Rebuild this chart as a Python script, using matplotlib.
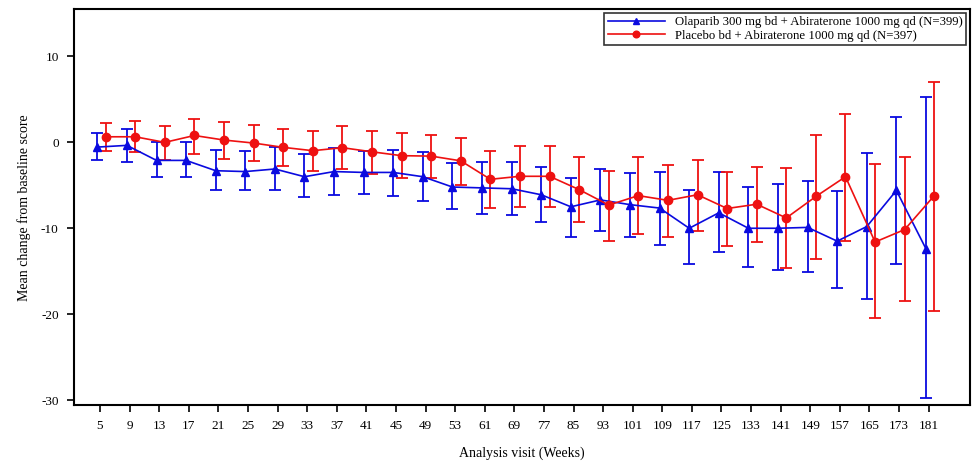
import numpy as np
import matplotlib
matplotlib.use('Agg')
import matplotlib.pyplot as plt

# Analysis visits (weeks)
weeks = [5, 9, 13, 17, 21, 25, 29, 33, 37, 41, 45, 49, 53,
         61, 69, 77, 85, 93, 101, 109, 117, 125, 133, 141, 149, 157, 165, 173, 181]

# Olaparib + Abiraterone: mean change and 95% CI limits
ola_mean = [-0.55, -0.35, -2.1, -2.1, -3.3, -3.4, -3.1, -4.0, -3.4, -3.5, -3.5, -4.0, -5.2,
            -5.3, -5.4, -6.1, -7.5, -6.7, -7.25, -7.65, -10.0, -8.2, -10.0, -10.0, -9.9,
            -11.5, -9.8, -5.6, -12.4]
ola_upper = [1.1, 1.5, 0.0, 0.0, -0.85, -1.0, -0.55, -1.4, -0.66, -1.0, -0.85, -1.1, -2.4,
             -2.3, -2.3, -2.9, -4.1, -3.1, -3.6, -3.45, -5.6, -3.5, -5.2, -4.9, -4.45,
             -5.7, -1.2, 3.0, 5.3]
ola_lower = [-2.1, -2.3, -4.0, -4.0, -5.6, -5.6, -5.5, -6.4, -6.1, -6.0, -6.3, -6.8, -7.75,
             -8.3, -8.4, -9.3, -11.0, -10.3, -11.0, -11.9, -14.2, -12.8, -14.5, -14.9, -15.1,
             -17.0, -18.2, -14.2, -29.8]

# Placebo + Abiraterone: mean change and 95% CI limits
pla_mean = [0.65, 0.65, 0.0, 0.8, 0.27, -0.08, -0.58, -0.97, -0.62, -1.1, -1.55, -1.6, -2.15,
            -4.3, -3.95, -3.95, -5.5, -7.3, -6.2, -6.75, -6.1, -7.7, -7.2, -8.8, -6.3,
            -4.0, -11.6, -10.15, -6.2]
pla_upper = [2.2, 2.5, 1.9, 2.75, 2.4, 2.0, 1.6, 1.36, 1.94, 1.3, 1.1, 0.9, 0.55,
             -1.0, -0.43, -0.43, -1.7, -3.3, -1.7, -2.6, -2.1, -3.4, -2.9, -3.0, 0.8,
             3.3, -2.5, -1.75, 7.0]
pla_lower = [-1.0, -1.1, -2.0, -1.3, -1.9, -2.2, -2.8, -3.3, -3.1, -3.7, -4.2, -4.1, -5.0,
             -7.6, -7.5, -7.55, -9.3, -11.5, -10.7, -11.0, -10.3, -12.1, -11.6, -14.6, -13.6,
             -11.5, -20.4, -18.5, -19.65]

plt.rcParams['font.family'] = ['Liberation Serif', 'DejaVu Serif']
plt.rcParams['axes.unicode_minus'] = False

fig = plt.figure(figsize=(9.73, 4.61), dpi=100)
ax = fig.add_axes([0.076, 0.121, 0.921, 0.859])

pos = np.arange(len(weeks))


def draw_series(offset, mean, lower, upper, color, marker, ms, label):
    mean = np.array(mean)
    yerr = [mean - np.array(lower), np.array(upper) - mean]
    ax.errorbar(pos + offset, mean, yerr=yerr, color=color, marker=marker,
                markersize=ms, linewidth=1.2, elinewidth=1.3, capsize=4,
                capthick=1.3, label=label)


draw_series(-0.09, ola_mean, ola_lower, ola_upper, '#0a0adf', '^', 5.5,
            'Olaparib 300 mg bd + Abiraterone 1000 mg qd (N=399)')
draw_series(0.19, pla_mean, pla_lower, pla_upper, '#ee1111', 'o', 6,
            'Placebo bd + Abiraterone 1000 mg qd (N=397)')

ax.set_xlim(-0.88, 29.4)
ax.set_ylim(-30.6, 15.5)
ax.set_xticks(pos)
ax.set_xticklabels([str(w) for w in weeks])
ax.set_yticks([10, 0, -10, -20, -30])
ax.tick_params(direction='out', length=5, width=1.2, labelsize=9.5, pad=6)

for s in ax.spines.values():
    s.set_linewidth(1.5)

ax.set_xlabel('Analysis visit (Weeks)', fontsize=10, labelpad=10)
ax.set_ylabel('Mean change from baseline score', fontsize=10, labelpad=7)

# legend handles: no error bars, smaller markers
handles, labels = ax.get_legend_handles_labels()
handles = [h[0] for h in handles]
leg = ax.legend(handles, labels, loc='upper right', fontsize=9.2, frameon=True,
                fancybox=False, edgecolor='black', borderpad=0.25,
                handlelength=4.5, labelspacing=0.1, borderaxespad=0.3,
                markerscale=0.8)
leg.get_frame().set_linewidth(1.2)

fig.savefig('out.png', dpi=100)
